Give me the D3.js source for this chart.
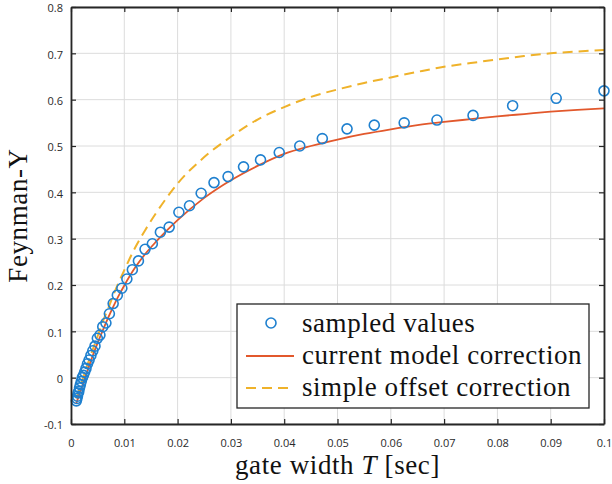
<!DOCTYPE html>
<html>
<head>
<meta charset="utf-8">
<script src="https://cdn.jsdelivr.net/npm/d3@7"></script>
<style>
  body { margin: 0; background: #fff; }
  svg { display: block; }
</style>
</head>
<body>
<div id="chart"></div>
<script>
// sampled gate widths (sec) and Feynman-Y values
const sampleX = [0.00100, 0.00110, 0.00121, 0.00133, 0.00146, 0.00160, 0.00176, 0.00193, 0.00212, 0.00233,
  0.00256, 0.00281, 0.00309, 0.00339, 0.00373, 0.00409, 0.00450, 0.00494, 0.00543, 0.00596,
  0.00655, 0.00720, 0.00791, 0.00869, 0.00954, 0.01048, 0.01151, 0.01265, 0.01389, 0.01526,
  0.01677, 0.01842, 0.02024, 0.02223, 0.02442, 0.02683, 0.02947, 0.03237, 0.03556, 0.03907,
  0.04292, 0.04715, 0.05179, 0.05690, 0.06251, 0.06866, 0.07543, 0.08286, 0.09103, 0.10000];
const sampleY = [-0.050, -0.045, -0.040, -0.033, -0.030, -0.022, -0.015, -0.008, 0.000, 0.005,
  0.012, 0.020, 0.030, 0.038, 0.048, 0.058, 0.068, 0.085, 0.092, 0.110,
  0.118, 0.138, 0.160, 0.178, 0.193, 0.213, 0.233, 0.252, 0.277, 0.289,
  0.314, 0.325, 0.357, 0.371, 0.398, 0.421, 0.434, 0.455, 0.470, 0.486,
  0.500, 0.516, 0.537, 0.545, 0.550, 0.556, 0.566, 0.587, 0.603, 0.619];

// model curves
const modelX = [0.001, 0.002, 0.003, 0.004, 0.005, 0.006, 0.007, 0.008, 0.009, 0.010,
  0.012, 0.014, 0.016, 0.018, 0.020, 0.025, 0.030, 0.035, 0.040, 0.045,
  0.050, 0.055, 0.060, 0.065, 0.070, 0.075, 0.080, 0.085, 0.090, 0.095, 0.100];
const currentModel = [-0.055, -0.022, 0.012, 0.045, 0.075, 0.103, 0.130, 0.155, 0.178, 0.199,
  0.237, 0.268, 0.294, 0.318, 0.340, 0.388, 0.426, 0.457, 0.483, 0.500,
  0.514, 0.526, 0.536, 0.545, 0.552, 0.558, 0.564, 0.569, 0.574, 0.578, 0.581];
const simpleOffset = [-0.045, -0.010, 0.025, 0.058, 0.090, 0.122, 0.150, 0.180, 0.207, 0.232,
  0.280, 0.320, 0.356, 0.389, 0.419, 0.476, 0.520, 0.557, 0.584, 0.606,
  0.622, 0.636, 0.648, 0.660, 0.671, 0.679, 0.687, 0.694, 0.700, 0.704, 0.707];

const xTicks = [0, 0.01, 0.02, 0.03, 0.04, 0.05, 0.06, 0.07, 0.08, 0.09, 0.1];
const yTicks = [-0.1, 0, 0.1, 0.2, 0.3, 0.4, 0.5, 0.6, 0.7, 0.8];
const legendLabels = ['sampled values', 'current model correction', 'simple offset correction'];

const width = 612, height = 484;
const margin = { top: 7, right: 8, bottom: 60, left: 71 };

const svg = d3.select('#chart').append('svg')
  .attr('width', width)
  .attr('height', height);

const x = d3.scaleLinear().domain([0, 0.1]).range([margin.left, width - margin.right]);
const y = d3.scaleLinear().domain([-0.1, 0.8]).range([height - margin.bottom, margin.top]);

const blue = '#1f80cf', red = '#e2582c', yellow = '#efb22a';
const serif = '"Liberation Serif", "Times New Roman", serif';
const sans = '"Open Sans", "Liberation Sans", sans-serif';

// grid
svg.append('g')
  .selectAll('line.gx')
  .data(xTicks)
  .join('line')
  .attr('x1', d => x(d)).attr('x2', d => x(d))
  .attr('y1', y(-0.1)).attr('y2', y(0.8))
  .attr('stroke', '#dcdcdc').attr('stroke-width', 1);
svg.append('g')
  .selectAll('line.gy')
  .data(yTicks)
  .join('line')
  .attr('y1', d => y(d)).attr('y2', d => y(d))
  .attr('x1', x(0)).attr('x2', x(0.1))
  .attr('stroke', '#dcdcdc').attr('stroke-width', 1);

// curves
const line = d3.line()
  .x((d, i) => x(modelX[i]))
  .y(d => y(d))
  .curve(d3.curveMonotoneX);

svg.append('path')
  .datum(simpleOffset)
  .attr('d', line)
  .attr('fill', 'none')
  .attr('stroke', yellow)
  .attr('stroke-width', 2)
  .attr('stroke-dasharray', '10,6');

svg.append('path')
  .datum(currentModel)
  .attr('d', line)
  .attr('fill', 'none')
  .attr('stroke', red)
  .attr('stroke-width', 1.8);

// sampled values
svg.append('g')
  .selectAll('circle')
  .data(sampleX)
  .join('circle')
  .attr('cx', d => x(d))
  .attr('cy', (d, i) => y(sampleY[i]))
  .attr('r', 5)
  .attr('fill', 'none')
  .attr('stroke', blue)
  .attr('stroke-width', 1.6);

// axes (MATLAB style box, inward ticks)
function styleAxis(g) {
  g.select('.domain').attr('stroke', '#262626').attr('stroke-width', 1.8);
  g.selectAll('.tick line').attr('stroke', '#262626').attr('stroke-width', 1.2);
  g.selectAll('.tick text')
    .attr('fill', '#2a2a2a')
    .style('font-family', sans)
    .style('font-size', '11px');
}

svg.append('g')
  .attr('transform', `translate(0,${y(-0.1)})`)
  .call(d3.axisBottom(x).tickValues(xTicks).tickSize(-5).tickSizeOuter(0).tickPadding(15).tickFormat(d => String(d)))
  .call(styleAxis);
svg.append('g')
  .attr('transform', `translate(0,${y(0.8)})`)
  .call(d3.axisTop(x).tickValues(xTicks).tickSize(-5).tickSizeOuter(0).tickFormat(''))
  .call(styleAxis);
svg.append('g')
  .attr('transform', `translate(${x(0)},0)`)
  .call(d3.axisLeft(y).tickValues(yTicks).tickSize(-5).tickSizeOuter(0).tickPadding(8).tickFormat(d => String(d)))
  .call(styleAxis)
  .selectAll('.tick text').attr('dy', '0.45em');
svg.append('g')
  .attr('transform', `translate(${x(0.1)},0)`)
  .call(d3.axisRight(y).tickValues(yTicks).tickSize(-5).tickSizeOuter(0).tickFormat(''))
  .call(styleAxis);

// axis titles
const xt = svg.append('text')
  .attr('x', (x(0) + x(0.1)) / 2)
  .attr('y', 474)
  .attr('text-anchor', 'middle')
  .style('font-family', serif)
  .style('font-size', '27px')
  .style('letter-spacing', '0.6px')
  .attr('fill', '#111');
xt.append('tspan').text('gate width ');
xt.append('tspan').attr('font-style', 'italic').text('T');
xt.append('tspan').text(' [sec]');

svg.append('text')
  .attr('transform', `translate(27,${(y(-0.1) + y(0.8)) / 2}) rotate(-90)`)
  .attr('text-anchor', 'middle')
  .style('font-family', serif)
  .style('font-size', '27px')
  .style('letter-spacing', '0.6px')
  .attr('fill', '#111')
  .text('Feynman-Y');

// legend
const legend = svg.append('g');
legend.append('rect')
  .attr('x', 237).attr('y', 304)
  .attr('width', 352).attr('height', 104)
  .attr('fill', '#fff')
  .attr('stroke', '#262626')
  .attr('stroke-width', 1.3);

const rowY = d3.scaleLinear().domain([0, 2]).range([323, 387]);
const rows = legend.selectAll('g.row')
  .data(legendLabels)
  .join('g')
  .attr('transform', (d, i) => `translate(0,${rowY(i)})`);

rows.append('text')
  .attr('x', 302)
  .attr('y', 8.5)
  .style('font-family', serif)
  .style('font-size', '27px')
  .style('letter-spacing', '0.55px')
  .attr('fill', '#111')
  .text(d => d);

rows.filter((d, i) => i === 0).append('circle')
  .attr('cx', 271).attr('cy', 0).attr('r', 5)
  .attr('fill', 'none').attr('stroke', blue).attr('stroke-width', 1.6);
rows.filter((d, i) => i === 1).append('line')
  .attr('x1', 246).attr('x2', 294).attr('y1', 1).attr('y2', 1)
  .attr('stroke', red).attr('stroke-width', 1.8);
rows.filter((d, i) => i === 2).append('line')
  .attr('x1', 246).attr('x2', 294).attr('y1', 1).attr('y2', 1)
  .attr('stroke', yellow).attr('stroke-width', 2)
  .attr('stroke-dasharray', '10,6');
</script>
</body>
</html>
